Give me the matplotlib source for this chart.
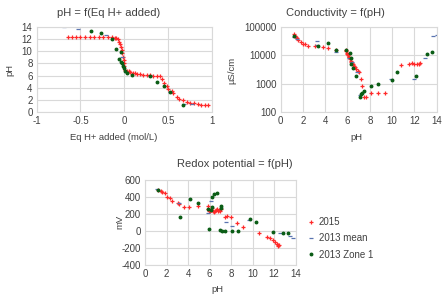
import matplotlib
matplotlib.use('Agg')
import matplotlib.pyplot as plt

plt.rcParams['font.family'] = ['Liberation Sans', 'DejaVu Sans']
plt.rcParams['axes.unicode_minus'] = False

# pH = f(Eq H+ added)
eq_2015 = [-0.64, -0.60, -0.55, -0.50, -0.45, -0.39, -0.34, -0.29, -0.24, -0.19, -0.14, -0.11, -0.09,
           -0.076, -0.065, -0.053, -0.038, -0.03, -0.023, -0.015, -0.008, -0.008, 0.0, 0.01, 0.03,
           0.05, 0.07, 0.10, 0.125, 0.15, 0.18, 0.22, 0.26, 0.30, 0.33, 0.37, 0.41, 0.43, 0.455, 0.485,
           0.504, 0.542, 0.561, 0.598, 0.629, 0.667, 0.712, 0.75, 0.795, 0.845, 0.883, 0.92, 0.958]
ph_2015 = [12.45, 12.45, 12.45, 12.45, 12.45, 12.45, 12.45, 12.45, 12.45, 12.45, 12.4, 12.3, 12.2,
           12.0, 11.6, 11.2, 10.8, 10.2, 9.7, 9.1, 8.6, 8.0, 7.5, 7.0, 6.8,
           6.7, 6.6, 6.5, 6.4, 6.3, 6.2, 6.1, 6.05, 6.05, 6.0, 6.0, 5.9, 5.5, 4.8, 4.3,
           3.8, 3.4, 3.1, 2.5, 2.15, 1.9, 1.65, 1.5, 1.4, 1.25, 1.15, 1.1, 1.05]
eq_mean = [-0.69, -0.53, -0.21, -0.03, 0.02, 0.30, 0.52, 0.68, 0.78]
ph_mean = [14.1, 13.7, 12.8, 9.0, 6.6, 5.9, 3.3, 1.25, 1.35]
eq_zone1 = [-0.375, -0.26, -0.14, -0.09, -0.06, -0.04, -0.034, -0.027, -0.015, 0.0, 0.01, 0.03,
            0.087, 0.295, 0.379, 0.455, 0.523, 0.674]
ph_zone1 = [13.45, 13.0, 12.0, 10.4, 8.7, 9.9, 8.2, 8.0, 7.5, 7.2, 6.7, 6.5,
            6.1, 6.0, 4.95, 4.2, 3.25, 1.1]

# Conductivity = f(pH)
c_ph_2015 = [1.19, 1.3, 1.4, 1.5, 1.6, 1.8, 2.0, 2.2, 2.5, 3.05, 3.8, 4.24, 5.0,
             5.85, 5.9, 5.95, 6.0, 6.05, 6.1, 6.15, 6.2, 6.3, 6.35, 6.4, 6.5, 6.6, 6.7, 6.8, 6.9, 7.0,
             7.2, 7.3, 7.5, 7.65, 8.13, 8.75, 9.32, 10.78, 11.5, 11.8, 12.0, 12.2, 12.4, 12.5]
c_val_2015 = [58000, 50000, 45000, 40000, 36000, 30000, 26000, 25000, 22500, 21500, 19500, 18000, 16000,
              15000, 14000, 12500, 11000, 10000, 9000, 8500, 7500, 6500, 6000, 5500, 4800, 4300, 3800,
              3300, 2900, 2500, 1400, 800, 330, 330, 460, 460, 460, 4500, 5000, 5200, 5000, 5000, 5100, 5200]
c_ph_mean = [1.2, 1.5, 3.29, 3.29, 4.93, 6.1, 6.4, 6.87, 7.1, 9.86, 12.0, 12.9, 13.7, 14.0]
c_val_mean = [45000, 38000, 32000, 23000, 13000, 8000, 6000, 2500, 380, 1500, 1500, 8300, 50000, 52000]
c_ph_zone1 = [1.2, 3.38, 4.24, 5.0, 5.9, 6.2, 6.27, 6.3, 6.45, 6.8, 7.1, 7.2, 7.3, 7.5, 8.13, 8.75,
              10.0, 10.45, 12.16, 13.1, 13.6]
c_val_zone1 = [48000, 21000, 28000, 15000, 15600, 12300, 8300, 4800, 3500, 1900, 340, 420, 460, 560,
               850, 1000, 1300, 2500, 1800, 11000, 13500]

# Redox potential = f(pH)
r_ph_2015 = [1.23, 1.45, 1.6, 1.82, 2.07, 2.28, 2.53, 3.08, 3.2, 3.67, 4.07, 4.94,
             5.85, 5.9, 5.95, 6.0, 6.1, 6.2, 6.3, 6.4, 6.5, 6.6, 6.7, 6.8, 6.9, 7.0, 7.1,
             7.4, 7.62, 8.02, 8.6, 9.16, 10.6, 11.38, 11.62, 11.93, 12.09, 12.25, 12.34, 12.4, 12.45]
r_mv_2015 = [482, 466, 455, 443, 404, 384, 357, 325, 313, 286, 286, 294,
             290, 260, 240, 230, 250, 270, 240, 225, 235, 250, 260, 240, 250, 235, 260,
             168, 180, 161, 90, 50, -27, -74, -82, -109, -129, -153, -168, -178, -160]
r_ph_mean = [1.15, 3.15, 5.86, 6.1, 7.53, 8.08, 9.7, 12.6, 13.5, 13.8]
r_mv_mean = [490, 326, 215, 355, 109, 59, 129, -27, -59, -82]
r_ph_zone1 = [1.2, 3.24, 4.16, 4.9, 5.85, 5.95, 6.1, 6.2, 6.23, 6.45, 6.7, 7.1, 7.1, 7.0, 7.16,
              7.47, 8.08, 8.64, 9.78, 10.33, 11.93, 12.86, 13.3]
r_mv_zone1 = [485, 161, 376, 326, 260, 20, 250, 280, 396, 435, 450, 294, 267, 12, 0,
              4, 4, 4, 138, 102, -8, -27, -27]

series_labels = ['2015', '2013 mean', '2013 Zone 1']

RED = '#ff2a2a'
BLUE = '#5a74b0'
GREEN = '#0b5d16'
GRID = '#d9d9d9'
TEXT = '#404040'


def style_axes(ax):
    ax.grid(True, color=GRID, linewidth=0.8)
    ax.set_axisbelow(True)
    for s in ax.spines.values():
        s.set_color(GRID)
        s.set_linewidth(0.8)
    ax.tick_params(length=0, labelsize=7, colors=TEXT, pad=3)


def plot_series(ax, xs, ys):
    ax.plot(xs[0], ys[0], ls='none', marker='+', ms=3.2, mew=0.9, color=RED, label=series_labels[0])
    ax.plot(xs[1], ys[1], ls='none', marker='_', ms=3.2, mew=0.9, color=BLUE, label=series_labels[1])
    ax.plot(xs[2], ys[2], ls='none', marker='o', ms=1.8, color=GREEN, label=series_labels[2])


fig = plt.figure(figsize=(4.48, 3.0), dpi=100)

W, H = 448.0, 300.0


def axes_px(left, top, right, bottom):
    return fig.add_axes([left / W, 1 - bottom / H, (right - left) / W, (bottom - top) / H])


# top left
ax1 = axes_px(36.7, 27.3, 211.7, 111.7)
plot_series(ax1, [eq_2015, eq_mean, eq_zone1], [ph_2015, ph_mean, ph_zone1])
ax1.set_xlim(-1, 1)
ax1.set_ylim(0, 14)
ax1.set_xticks([-1, -0.5, 0, 0.5, 1])
ax1.set_xticklabels(['-1', '-0.5', '0', '0.5', '1'])
ax1.set_yticks(range(0, 15, 2))
style_axes(ax1)
fig.text(109 / W, 1 - 12.5 / H, 'pH = f(Eq H+ added)', ha='center', va='center', fontsize=8, color=TEXT)
fig.text(114 / W, 1 - 137 / H, 'Eq H+ added (mol/L)', ha='center', va='center', fontsize=6.8, color=TEXT)
fig.text(10 / W, 1 - 70 / H, 'pH', ha='center', va='center', rotation=90, fontsize=6.8, color=TEXT)

# top right
ax2 = axes_px(280.5, 27.3, 436.8, 111.7)
plot_series(ax2, [c_ph_2015, c_ph_mean, c_ph_zone1], [c_val_2015, c_val_mean, c_val_zone1])
ax2.set_yscale('log')
ax2.set_xlim(0, 14)
ax2.set_ylim(100, 100000)
ax2.set_xticks(range(0, 15, 2))
ax2.set_yticks([100, 1000, 10000, 100000])
ax2.set_yticklabels(['100', '1000', '10000', '100000'])
ax2.minorticks_off()
style_axes(ax2)
fig.text(335 / W, 1 - 12.5 / H, 'Conductivity = f(pH)', ha='center', va='center', fontsize=8, color=TEXT)
fig.text(356 / W, 1 - 137 / H, 'pH', ha='center', va='center', fontsize=6.8, color=TEXT)
fig.text(232 / W, 1 - 70 / H, 'µS/cm', ha='center', va='center', rotation=90, fontsize=6.8, color=TEXT)

# bottom
ax3 = axes_px(145, 180, 295.5, 265)
plot_series(ax3, [r_ph_2015, r_ph_mean, r_ph_zone1], [r_mv_2015, r_mv_mean, r_mv_zone1])
ax3.set_xlim(0, 14)
ax3.set_ylim(-400, 600)
ax3.set_xticks(range(0, 15, 2))
ax3.set_yticks(range(-400, 601, 200))
style_axes(ax3)
fig.text(235 / W, 1 - 164 / H, 'Redox potential = f(pH)', ha='center', va='center', fontsize=8, color=TEXT)
fig.text(217 / W, 1 - 290 / H, 'pH', ha='center', va='center', fontsize=6.8, color=TEXT)
fig.text(120 / W, 1 - 222 / H, 'mV', ha='center', va='center', rotation=90, fontsize=6.8, color=TEXT)

leg = ax3.legend(loc='upper left', bbox_to_anchor=(308 / W, 1 - 217 / H), bbox_transform=fig.transFigure,
                 frameon=False, fontsize=7, handlelength=0.7, handletextpad=0.4, labelspacing=0.65,
                 borderaxespad=0, borderpad=0)
for t in leg.get_texts():
    t.set_color(TEXT)

fig.savefig('out.png', dpi=100)
